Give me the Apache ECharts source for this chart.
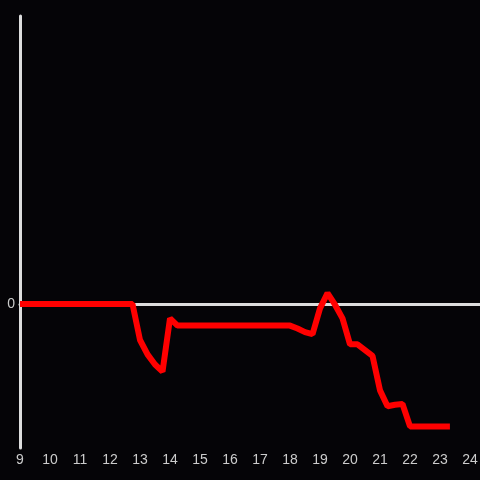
<!DOCTYPE html>
<html>
<head>
<meta charset="utf-8">
<script src="https://cdn.jsdelivr.net/npm/echarts@6/dist/echarts.min.js"></script>
<style>
  html, body { margin: 0; padding: 0; background: #050407; }
  #chart { width: 480px; height: 480px; }
</style>
</head>
<body>
<div id="chart"></div>
<script>
// hour of day -> value (only 0 labelled on the y axis)
const hours = [9, 12.75, 13, 13.25, 13.5, 13.75, 14, 14.25, 18, 18.25, 18.5, 18.75, 19, 19.25, 19.5, 19.75, 20, 20.25, 20.5, 20.75, 21, 21.25, 21.5, 21.75, 22, 23.33];
const values = [0, 0, -25, -35, -42, -47, -10, -15, -15, -17, -19.5, -21, -3, 7.5, -0.5, -10, -28, -28, -32, -36, -60, -71, -70, -69.5, -85, -85];
const xTicks = [9, 10, 11, 12, 13, 14, 15, 16, 17, 18, 19, 20, 21, 22, 23, 24];

const chart = echarts.init(document.getElementById("chart"));

const labelStyle = {
  color: "#cccccc",
  fontSize: 14,
  fontFamily: "Liberation Sans, Arial, sans-serif",
};

const option = {
  backgroundColor: "#050407",
  animation: false,
  grid: { left: 20, right: 0, top: 16, bottom: 32, outerBoundsMode: "none" },
  xAxis: [
    {
      type: "value",
      min: xTicks[0],
      max: 24.333,
      interval: 1,
      axisLine: { show: false, onZero: false },
      axisTick: { show: false },
      splitLine: { show: false },
      axisLabel: {
        ...labelStyle,
        margin: 5,
        formatter: (v) => (xTicks.includes(v) ? String(v) : ""),
      },
    },
    {
      // zero line
      type: "value",
      position: "bottom",
      min: xTicks[0],
      max: 24.333,
      axisLine: { show: true, onZero: true, lineStyle: { color: "#dddddd", width: 3 } },
      axisTick: { show: false },
      axisLabel: { show: false },
      splitLine: { show: false },
    },
  ],
  yAxis: {
    type: "value",
    min: -100,
    max: 200,
    interval: 100,
    axisLine: { show: true, lineStyle: { color: "#dddddd", width: 3 } },
    axisTick: { show: false },
    splitLine: { show: false },
    axisLabel: {
      ...labelStyle,
      margin: 5,
      formatter: (v) => (v === 0 ? "0" : ""),
    },
  },
  series: [
    {
      type: "line",
      xAxisIndex: 0,
      data: hours.map((h, i) => [h, values[i]]),
      symbol: "none",
      lineStyle: { color: "#ff0000", width: 6 },
    },
  ],
};

chart.setOption(option);
</script>
</body>
</html>
